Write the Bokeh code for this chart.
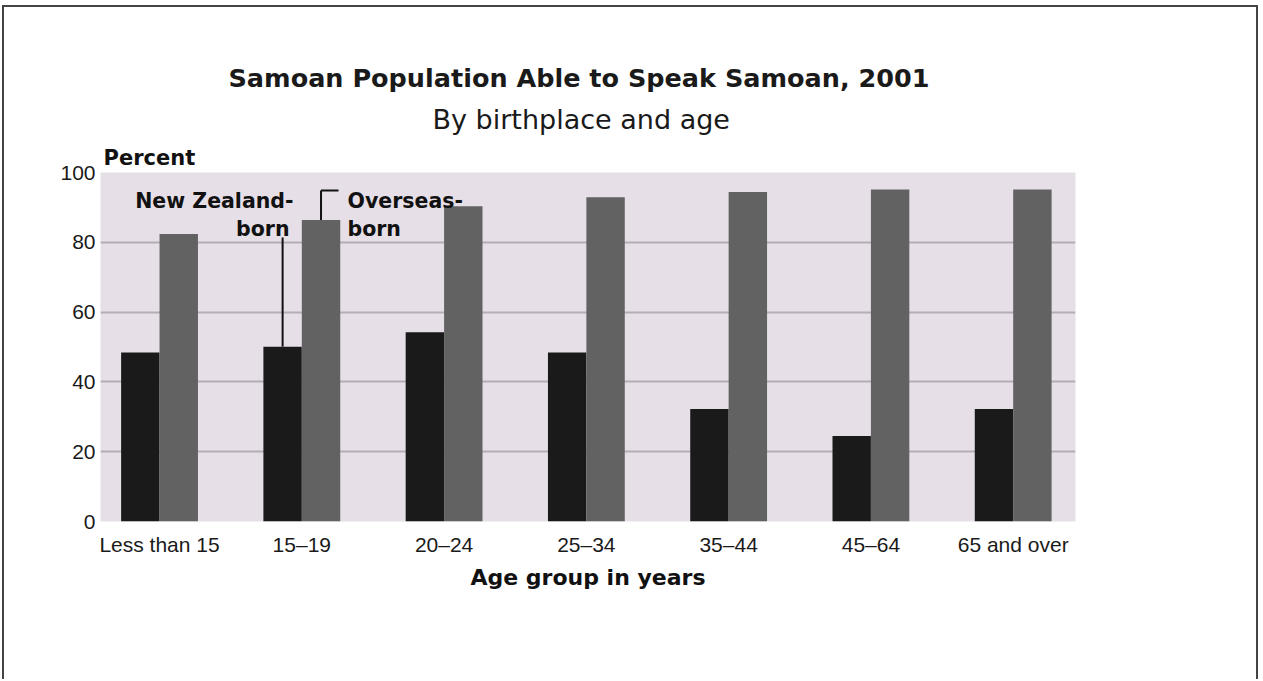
from bokeh.plotting import figure
from bokeh.models import FixedTicker, Label, Title
from bokeh.embed import file_html
from bokeh.resources import INLINE

# ---- data ----
age_groups = ["Less than 15", "15–19", "20–24", "25–34", "35–44", "45–64", "65 and over"]
nz_born = [48.4, 50.1, 54.2, 48.4, 32.2, 24.5, 32.2]
overseas_born = [82.4, 86.4, 90.3, 92.9, 94.4, 95.1, 95.1]
y_ticks = [0, 20, 40, 60, 80, 100]
grid_ticks = [20, 40, 60, 80]

# ---- layout ----
OX, OY = 4, 7                            # canvas origin on the page
W, H = 1256, 674
FL, FR, FT, FB = 96, 1071, 165, 514      # plot frame in canvas px
X0, X1 = -0.415, 6.438
Y0, Y1 = 0, 100
BW = 0.27

def dx(page_x):
    return X0 + (page_x - OX - FL) / (FR - FL) * (X1 - X0)

def dy(page_y):
    return Y0 + (FB - (page_y - OY)) / (FB - FT) * (Y1 - Y0)

p = figure(width=W, height=H, x_range=(X0, X1), y_range=(Y0, Y1),
           output_backend="svg", toolbar_location=None,
           min_border_left=FL, min_border_right=W - FR,
           min_border_top=FT, min_border_bottom=H - FB)
p.background_fill_color = "#e6dfe8"
p.border_fill_color = "white"
p.outline_line_color = None
p.styles = {"border-top": "2px solid #444444", "border-left": "2px solid #444444",
            "border-right": "2px solid #444444", "margin-left": "2px", "margin-top": "5px"}

xs = list(range(len(age_groups)))
p.vbar(x=[i - BW / 2 for i in xs], top=nz_born, bottom=0, width=BW,
       fill_color="#1a1a1a", line_color=None)
p.vbar(x=[i + BW / 2 for i in xs], top=overseas_born, bottom=0, width=BW,
       fill_color="#626262", line_color=None)

# grid
p.xgrid.visible = False
p.ygrid.ticker = FixedTicker(ticks=grid_ticks)
p.ygrid.grid_line_color = "#b3adb5"
p.ygrid.grid_line_width = 2

# axes
p.yaxis.ticker = FixedTicker(ticks=y_ticks)
p.yaxis.axis_line_color = None
p.yaxis.major_tick_line_color = None
p.yaxis.minor_tick_line_color = None
p.yaxis.major_tick_in = 0
p.yaxis.major_tick_out = 0
p.yaxis.major_label_standoff = 5
p.yaxis.major_label_text_font = "Liberation Sans"
p.yaxis.major_label_text_font_size = "21px"
p.yaxis.major_label_text_color = "#1a1a1a"

p.xaxis.ticker = FixedTicker(ticks=xs)
p.xaxis.major_label_overrides = {i: g for i, g in zip(xs, age_groups)}
p.xaxis.axis_line_color = None
p.xaxis.major_tick_line_color = None
p.xaxis.minor_tick_line_color = None
p.xaxis.major_tick_in = 0
p.xaxis.major_tick_out = 0
p.xaxis.major_label_standoff = 11
p.xaxis.major_label_text_font = "Liberation Sans"
p.xaxis.major_label_text_font_size = "21px"
p.xaxis.major_label_text_color = "#1a1a1a"
p.xaxis.axis_label = "Age group in years"
p.xaxis.axis_label_text_font = "DejaVu Sans"
p.xaxis.axis_label_text_font_size = "22px"
p.xaxis.axis_label_text_font_style = "bold"
p.xaxis.axis_label_text_color = "#111111"
p.xaxis.axis_label_standoff = 6

BOLD = "DejaVu Sans"

# titles (stacked above the frame: first added is nearest the frame)
p.add_layout(Title(text="Percent", align="left", offset=3, standoff=5,
                   text_font=BOLD, text_font_size="21px", text_font_style="bold",
                   text_color="#111111"), "above")
p.add_layout(Title(text="By birthplace and age", align="left", offset=332, standoff=13,
                   text_font=BOLD, text_font_size="27px", text_font_style="normal",
                   text_color="#1a1a1a"), "above")
p.add_layout(Title(text="Samoan Population Able to Speak Samoan, 2001", align="left",
                   offset=128, standoff=5,
                   text_font=BOLD, text_font_size="25.5px", text_font_style="bold",
                   text_color="#1a1a1a"), "above")

def add_label(text, px, py, size, align="left"):
    p.add_layout(Label(x=dx(px), y=dy(py), text=text, text_font=BOLD,
                       text_font_size=size, text_font_style="bold",
                       text_align=align, text_baseline="alphabetic",
                       text_color="#111111"))

# series annotations
add_label("New Zealand-", 293, 200, "20.5px", align="right")
add_label("born", 289, 228, "20.5px", align="right")
add_label("Overseas-", 347, 200, "20.5px")
add_label("born", 347, 228, "20.5px")

nz_line_x = 1 - BW / 2
ov_line_x = 1 + BW / 2
p.segment(x0=[nz_line_x], y0=[nz_born[1]], x1=[nz_line_x], y1=[dy(237)],
          line_color="#111111", line_width=2)
p.segment(x0=[ov_line_x, ov_line_x], y0=[overseas_born[1], dy(190)],
          x1=[ov_line_x, dx(338)], y1=[dy(190), dy(190)],
          line_color="#111111", line_width=2)

open("out.html", "w").write(file_html(p, INLINE))
